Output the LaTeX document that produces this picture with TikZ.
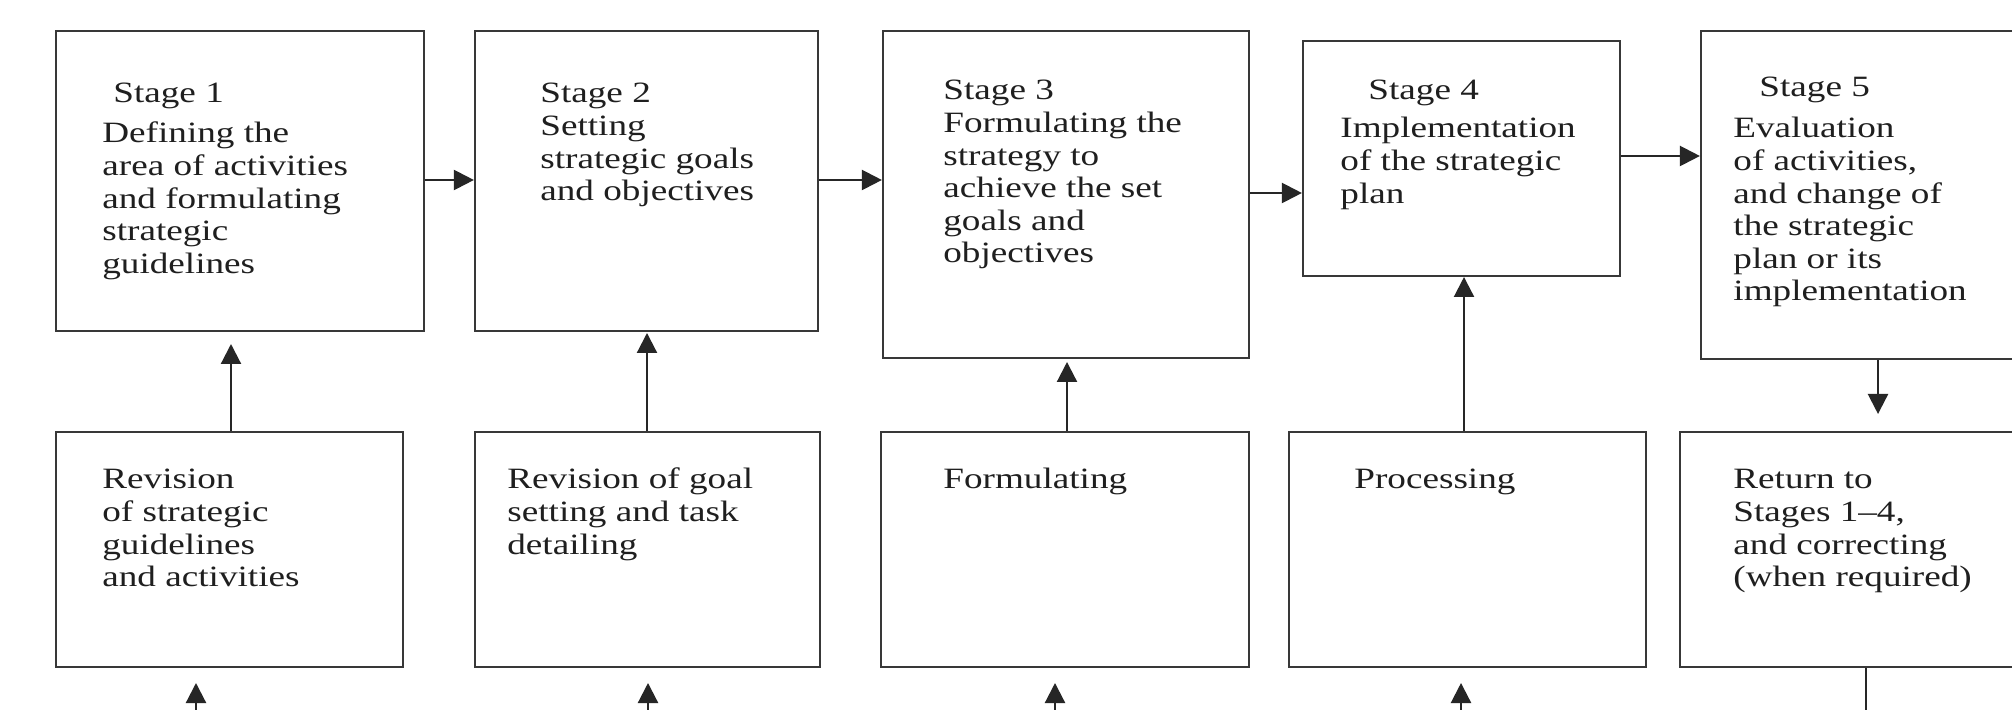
\documentclass[tikz,border=0pt]{standalone}
\usepackage{fontspec}
\setmainfont[FakeStretch=1.26]{Liberation Serif}
\usetikzlibrary{arrows.meta,calc}
\newcommand{\txtlines}[1]{\begin{tabular}[t]{@{}l@{}}#1\end{tabular}}
\begin{document}
\begin{tikzpicture}[x=0.5pt,y=-0.5pt,
  box/.style={draw=black!78,line width=1.1pt,inner sep=0pt,fill=none},
  txt/.style={anchor=base west,inner sep=0pt,text=black!88,font=\fontsize{14.75pt}{16.3pt}\selectfont},
  arr/.style={draw=black!85,line width=1.1pt,-{Triangle[length=10pt,width=10pt]}},
  ln/.style={draw=black!85,line width=1.1pt}]
\useasboundingbox (0,0) rectangle (2012,710);
\clip (0,0) rectangle (2012,710);
\fill[white] (0,0) rectangle (2012,710);
% top row
\node[box,minimum width=184pt,minimum height=150pt] (s1) at (240,181) {};
\node[box,minimum width=171.5pt,minimum height=150pt] (s2) at (646.5,181) {};
\node[box,minimum width=183pt,minimum height=163.5pt] (s3) at (1066,194.5) {};
\node[box,minimum width=158.5pt,minimum height=117.5pt] (s4) at (1461.5,158.5) {};
\node[box,minimum width=179.5pt,minimum height=164pt] (s5) at (1880.5,195) {};
% bottom row
\node[box,minimum width=173.5pt,minimum height=117.5pt] (b1) at (229.5,549.5) {};
\node[box,minimum width=172.5pt,minimum height=117.5pt] (b2) at (647.5,549.5) {};
\node[box,minimum width=184pt,minimum height=117.5pt] (b3) at (1065,549.5) {};
\node[box,minimum width=178.5pt,minimum height=117.5pt] (b4) at (1467.5,549.5) {};
\node[box,minimum width=190pt,minimum height=117.5pt] (b5) at (1870,549.5) {};
% texts
\node[txt] (h1) at (113,103) {Stage 1};
\node[txt] (t1) at (102,143) {\txtlines{Defining the\\area of activities\\and formulating\\strategic\\guidelines}};
\node[txt] (t2) at (540,103) {\txtlines{Stage 2\\Setting\\strategic goals\\and objectives}};
\node[txt] (t3) at (943,100) {\txtlines{Stage 3\\Formulating the\\strategy to\\achieve the set\\goals and\\objectives}};
\node[txt] (h4) at (1368,100) {Stage 4};
\node[txt] (t4) at (1340,138) {\txtlines{Implementation\\of the strategic\\plan}};
\node[txt] (h5) at (1759,97) {Stage 5};
\node[txt] (t5) at (1733,138) {\txtlines{Evaluation\\of activities,\\and change of\\the strategic\\plan or its\\implementation}};
\node[txt] (r1) at (102,489) {\txtlines{Revision\\of strategic\\guidelines\\and activities}};
\node[txt] (r2) at (507,489) {\txtlines{Revision of goal\\setting and task\\detailing}};
\node[txt] (r3) at (943,489) {Formulating};
\node[txt] (r4) at (1354,489) {Processing};
\node[txt] (r5) at (1733,489) {\txtlines{Return to\\Stages 1–4,\\and correcting\\(when required)}};
% horizontal arrows
\draw[arr] (s1.east |- 0,180) -- (s2.west |- 0,180);
\draw[arr] (s2.east |- 0,180) -- (s3.west |- 0,180);
\draw[arr] (s3.east |- 0,193) -- (s4.west |- 0,193);
\draw[arr] (s4.east |- 0,156) -- (s5.west |- 0,156);
% vertical arrows between rows
\coordinate (u1) at (231,344);
\coordinate (u2) at (647,333);
\coordinate (u3) at (1067,362);
\coordinate (u4) at (1464,277);
\coordinate (d5) at (1878,414);
\draw[arr] (b1.north -| u1) -- (u1);
\draw[arr] (b2.north -| u2) -- (u2);
\draw[arr] (b3.north -| u3) -- (u3);
\draw[arr] (b4.north -| u4) -- (u4);
\draw[arr] (s5.south -| d5) -- (d5);
% arrows from below
\coordinate (e1) at (196,720); \coordinate (f1) at (196,683);
\coordinate (e2) at (648,720); \coordinate (f2) at (648,683);
\coordinate (e3) at (1055,720); \coordinate (f3) at (1055,683);
\coordinate (e4) at (1461,720); \coordinate (f4) at (1461,683);
\draw[arr] (e1) -- (f1);
\draw[arr] (e2) -- (f2);
\draw[arr] (e3) -- (f3);
\draw[arr] (e4) -- (f4);
\coordinate (l5) at (1866,720);
\draw[ln] (b5.south -| l5) -- (l5);
\end{tikzpicture}
\end{document}
